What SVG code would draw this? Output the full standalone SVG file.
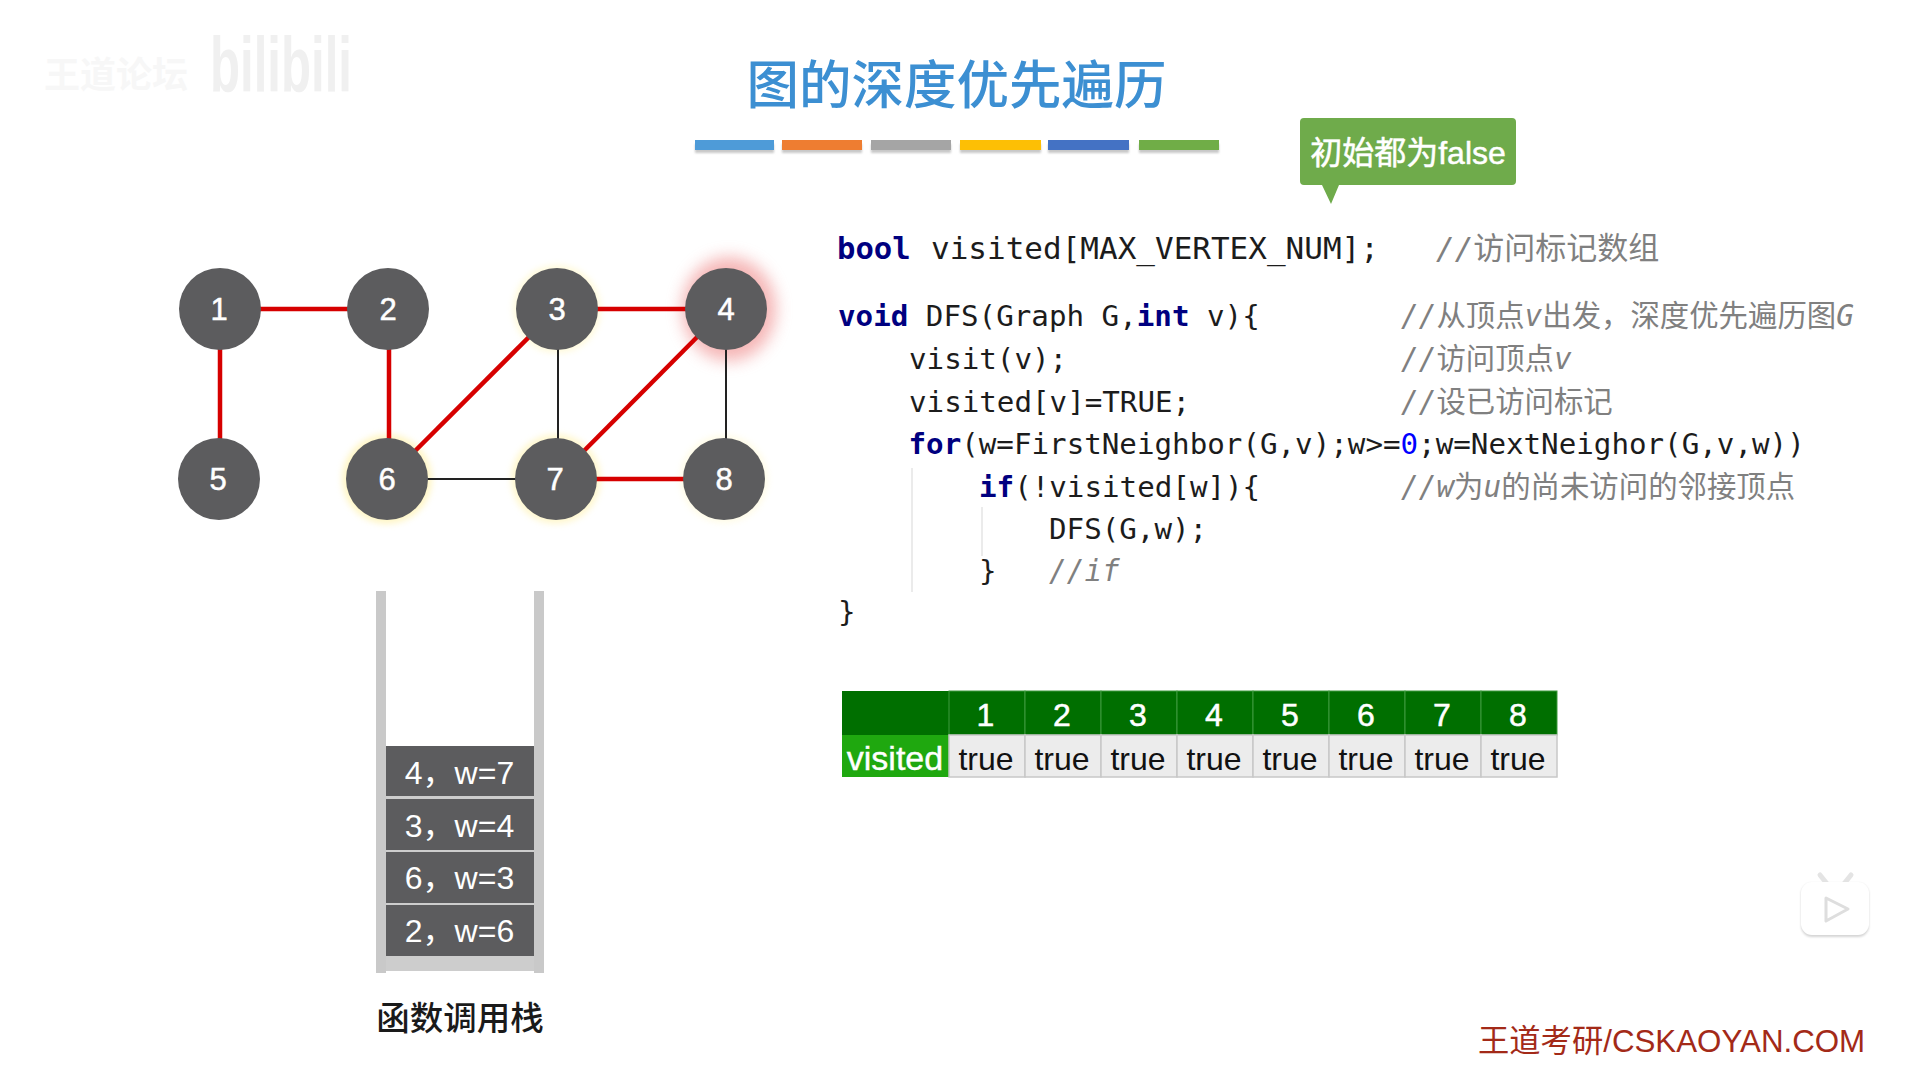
<svg xmlns="http://www.w3.org/2000/svg" width="1915" height="1069" viewBox="0 0 1915 1069">
<style>
.sans{font-family:"Liberation Sans","Noto Sans CJK SC",sans-serif}
.cjk{font-family:"Noto Sans CJK SC",sans-serif}
.code{font-family:"DejaVu Sans Mono","Noto Sans CJK SC",monospace;font-size:29.2px;fill:#1c1c1c}
.kw{fill:#000080;font-weight:bold}
.cm{fill:#808080;font-style:italic;font-size:29.4px}
.cn{font-style:normal}
.node{fill:#5c5c5e}
.num{font-family:"Liberation Sans",sans-serif;font-size:31px;fill:#fff;text-anchor:middle;stroke:#fff;stroke-width:.5}
.red{stroke:#d60000;stroke-width:4.5;fill:none}
.blk{stroke:#222;stroke-width:2;fill:none}
.cell{fill:#5c5c5e}
.st{font-family:"Liberation Sans","Noto Sans CJK SC",sans-serif;font-size:32px;fill:#fff;text-anchor:middle}
.th{font-family:"Liberation Sans",sans-serif;font-size:32px;fill:#fff;text-anchor:middle;stroke:#fff;stroke-width:.5}
.td{font-family:"Liberation Sans",sans-serif;font-size:32px;fill:#111;text-anchor:middle}
.tc{fill:#ececec;stroke:#c8c8c8;stroke-width:1.5}
.hc{fill:#006f00;stroke:#3f9a3f;stroke-width:1}
.guide{stroke:#e4e4e4;stroke-width:1.5}
</style>
<defs>
<filter id="b3" x="-30%" y="-30%" width="160%" height="160%"><feGaussianBlur stdDeviation="3"/></filter>
<filter id="b5" x="-40%" y="-40%" width="180%" height="180%"><feGaussianBlur stdDeviation="8"/></filter>
<filter id="b1" x="-5%" y="-5%" width="110%" height="130%"><feGaussianBlur stdDeviation="1.2"/></filter>
</defs>
<rect width="1915" height="1069" fill="#fff"/>
<g id="watermark">
<text x="44" y="88" class="cjk" font-size="36" fill="#f7f7f7" font-weight="700">王道论坛</text>
<text x="210" y="92" font-family="Liberation Sans,sans-serif" font-size="78" font-weight="700" fill="#f0f0f0" textLength="142" lengthAdjust="spacingAndGlyphs">bilibili</text>
</g>
<text id="title" x="956.5" y="104" class="cjk" font-size="52.5" font-weight="500" fill="#3c8fd2" text-anchor="middle">图的深度优先遍历</text>
<g id="bars">
<g filter="url(#b1)" fill="#bbb" opacity=".8"><rect x="695" y="144" width="79" height="9"/><rect x="782" y="144" width="80" height="9"/><rect x="871" y="144" width="80" height="9"/><rect x="960" y="144" width="81" height="9"/><rect x="1048" y="144" width="81" height="9"/><rect x="1139" y="144" width="80" height="9"/></g>
<rect x="695" y="140" width="79" height="10" fill="#4e9bd8"/>
<rect x="782" y="140" width="80" height="10" fill="#ee7d31"/>
<rect x="871" y="140" width="80" height="10" fill="#a5a5a5"/>
<rect x="960" y="140" width="81" height="10" fill="#fdbf05"/>
<rect x="1048" y="140" width="81" height="10" fill="#4472c4"/>
<rect x="1139" y="140" width="80" height="10" fill="#70ad47"/>
</g>
<g id="callout">
<path d="M1304 118H1512a4 4 0 0 1 4 4V181a4 4 0 0 1-4 4H1339L1331 204L1322 185H1304a4 4 0 0 1-4-4V122a4 4 0 0 1 4-4Z" fill="#6fab4b"/>
<text x="1408" y="164" class="sans" font-size="32" fill="#fff" stroke="#fff" stroke-width=".5" text-anchor="middle">初始都为false</text>
</g>
<g id="glows">
<ellipse cx="729" cy="309" rx="47" ry="52" fill="#f08f8f" opacity=".65" filter="url(#b5)"/>
<circle cx="557" cy="309" r="44" fill="#fff4b0" opacity=".45" filter="url(#b3)"/>
<circle cx="387" cy="479" r="45" fill="#fff0a0" opacity=".6" filter="url(#b3)"/>
<circle cx="556" cy="479" r="45" fill="#fff0a0" opacity=".5" filter="url(#b3)"/>
<circle cx="724" cy="479" r="44" fill="#fff4b0" opacity=".3" filter="url(#b3)"/>
</g>
<g id="connectors">
<line class="red" x1="220" y1="309" x2="388" y2="309"/>
<line class="red" x1="220" y1="309" x2="220" y2="479"/>
<line class="red" x1="389" y1="309" x2="389" y2="479"/>
<line class="red" x1="387" y1="479" x2="557" y2="309"/>
<line class="red" x1="557" y1="309" x2="725" y2="309"/>
<line class="red" x1="725" y1="309" x2="556" y2="479"/>
<line class="red" x1="556" y1="479" x2="724" y2="479"/>
<line class="blk" x1="558" y1="309" x2="558" y2="479"/>
<line class="blk" x1="726" y1="309" x2="726" y2="479"/>
<line class="blk" x1="387" y1="479" x2="556" y2="479"/>
</g>
<g id="node1"><ellipse class="node" cx="220" cy="309" rx="41" ry="41"/><text class="num" x="219" y="320">1</text></g>
<g id="node2"><ellipse class="node" cx="388" cy="309" rx="41" ry="41"/><text class="num" x="388" y="320">2</text></g>
<g id="node3"><ellipse class="node" cx="557" cy="309" rx="41" ry="41"/><text class="num" x="557" y="320">3</text></g>
<g id="node4"><ellipse class="node" cx="726" cy="309" rx="41" ry="41"/><text class="num" x="726" y="320">4</text></g>
<g id="node5"><ellipse class="node" cx="219" cy="479" rx="41" ry="41"/><text class="num" x="218" y="490">5</text></g>
<g id="node6"><ellipse class="node" cx="387" cy="479" rx="41" ry="41"/><text class="num" x="387" y="490">6</text></g>
<g id="node7"><ellipse class="node" cx="556" cy="479" rx="41" ry="41"/><text class="num" x="555" y="490">7</text></g>
<g id="node8"><ellipse class="node" cx="724" cy="479" rx="41" ry="41"/><text class="num" x="724" y="490">8</text></g>
<g id="code">
<line class="guide" x1="912" y1="468" x2="912" y2="592"/>
<line class="guide" x1="982" y1="507" x2="982" y2="556"/>
<text class="code" x="837" y="259" style="font-size:30.6px"><tspan class="kw">bool</tspan></text>
<text class="code" x="931" y="259" style="font-size:31px">visited[MAX_VERTEX_NUM];</text>
<text class="code cm" x="1436" y="259" style="font-size:31px">//<tspan class="cn">访问标记数组</tspan></text>
<text class="code" x="838" y="326"><tspan class="kw">void</tspan> DFS(Graph G,<tspan class="kw">int</tspan> v){</text>
<text class="code cm" x="1401" y="326">//<tspan class="cn">从顶点</tspan>v<tspan class="cn">出发，深度优先遍历图</tspan>G</text>
<text class="code" x="909" y="369">visit(v);</text>
<text class="code cm" x="1401" y="369">//<tspan class="cn">访问顶点</tspan>v</text>
<text class="code" x="909" y="412">visited[v]=TRUE;</text>
<text class="code cm" x="1401" y="412">//<tspan class="cn">设已访问标记</tspan></text>
<text class="code" x="908.5" y="454"><tspan class="kw">for</tspan>(w=FirstNeighbor(G,v);w&gt;=<tspan fill="#0000ff">0</tspan>;w=NextNeighor(G,v,w))</text>
<text class="code" x="979" y="497"><tspan class="kw">if</tspan>(!visited[w]){</text>
<text class="code cm" x="1401" y="497">//w<tspan class="cn">为</tspan>u<tspan class="cn">的尚未访问的邻接顶点</tspan></text>
<text class="code" x="1049" y="539">DFS(G,w);</text>
<text class="code" x="979" y="581">}</text>
<text class="code cm" x="1049" y="581">//if</text>
<text class="code" x="838" y="622">}</text>
</g>
<g id="stack">
<rect x="376" y="591" width="10" height="382" fill="#c9c9c9"/>
<rect x="534" y="591" width="10" height="382" fill="#c9c9c9"/>
<rect x="386" y="796" width="148" height="175" fill="#cdcdcd"/>
<g id="frame-4"><rect class="cell" x="386" y="746" width="148" height="50"/><text class="st" x="459.5" y="784">4，w=7</text></g>
<g id="frame-3"><rect class="cell" x="386" y="799" width="148" height="51"/><text class="st" x="459.5" y="837">3，w=4</text></g>
<g id="frame-6"><rect class="cell" x="386" y="852" width="148" height="51"/><text class="st" x="459.5" y="889">6，w=3</text></g>
<g id="frame-2"><rect class="cell" x="386" y="905" width="148" height="51"/><text class="st" x="459.5" y="942">2，w=6</text></g>
<text x="460" y="1030" class="cjk" font-size="33.5" font-weight="500" fill="#1a1a1a" text-anchor="middle">函数调用栈</text>
</g>
<g id="table">
<rect class="hc" x="842" y="691" width="107" height="44" style="stroke:none"/>
<rect x="842" y="735" width="107" height="42" fill="#1fa80f"/>
<text x="895" y="770" font-family="Liberation Sans,sans-serif" font-size="34" fill="#fff" stroke="#fff" stroke-width=".4" text-anchor="middle">visited</text>
<rect class="hc" x="949" y="691" width="76" height="44"/><text class="th" x="985.5" y="726">1</text>
<rect class="hc" x="1025" y="691" width="76" height="44"/><text class="th" x="1062" y="726">2</text>
<rect class="hc" x="1101" y="691" width="76" height="44"/><text class="th" x="1138" y="726">3</text>
<rect class="hc" x="1177" y="691" width="76" height="44"/><text class="th" x="1214" y="726">4</text>
<rect class="hc" x="1253" y="691" width="76" height="44"/><text class="th" x="1290" y="726">5</text>
<rect class="hc" x="1329" y="691" width="76" height="44"/><text class="th" x="1366" y="726">6</text>
<rect class="hc" x="1405" y="691" width="76" height="44"/><text class="th" x="1442" y="726">7</text>
<rect class="hc" x="1481" y="691" width="76" height="44"/><text class="th" x="1518" y="726">8</text>
<rect class="tc" x="949" y="735" width="76" height="42"/><text class="td" x="986" y="770">true</text>
<rect class="tc" x="1025" y="735" width="76" height="42"/><text class="td" x="1062" y="770">true</text>
<rect class="tc" x="1101" y="735" width="76" height="42"/><text class="td" x="1138" y="770">true</text>
<rect class="tc" x="1177" y="735" width="76" height="42"/><text class="td" x="1214" y="770">true</text>
<rect class="tc" x="1253" y="735" width="76" height="42"/><text class="td" x="1290" y="770">true</text>
<rect class="tc" x="1329" y="735" width="76" height="42"/><text class="td" x="1366" y="770">true</text>
<rect class="tc" x="1405" y="735" width="76" height="42"/><text class="td" x="1442" y="770">true</text>
<rect class="tc" x="1481" y="735" width="76" height="42"/><text class="td" x="1518" y="770">true</text>
</g>
<g id="tv-icon">
<path d="M1820 875L1828 885M1851 875L1843 885" stroke="#e4e4e4" stroke-width="5" stroke-linecap="round"/>
<rect x="1801" y="883" width="68" height="54" rx="11" fill="#d4d4d4" filter="url(#b1)"/>
<rect x="1801" y="882" width="68" height="53" rx="11" fill="#fff"/>
<path d="M1826 898L1848 909L1826 921Z" fill="#fff" stroke="#dedede" stroke-width="3" stroke-linejoin="round"/>
</g>
<text id="footer" x="1478" y="1052" class="sans" font-size="31.3" fill="#a32a18">王道考研/CSKAOYAN.COM</text>
</svg>
